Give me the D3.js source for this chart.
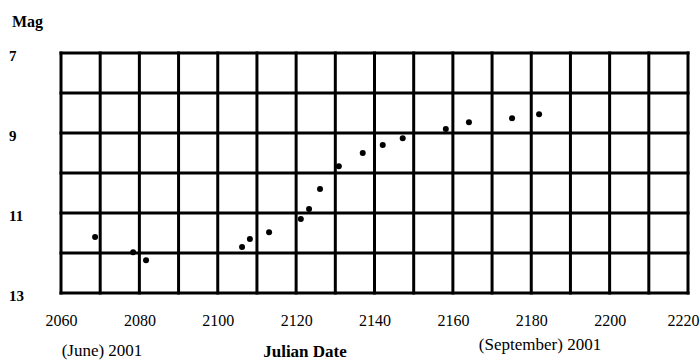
<!DOCTYPE html>
<html>
<head>
  <script src="https://d3js.org/d3.v7.min.js"></script>
  <style>
    html, body { margin: 0; background: #fff; }
    text { font-family: "Liberation Serif", serif; fill: #000; }
  </style>
</head>
<body>
<script>
  // observations: julian date (2452000 +) and visual magnitude
  var julianDays = [2068.7, 2078.4, 2081.7, 2106.2, 2108.2, 2113.1, 2121.2, 2123.3, 2126.1,
                    2130.9, 2137.0, 2142.1, 2147.2, 2158.2, 2164.1, 2175.1, 2182.0];
  var magnitudes = [11.6, 11.98, 12.18, 11.85, 11.65, 11.48, 11.15, 10.9, 10.4,
                    9.83, 9.5, 9.3, 9.13, 8.9, 8.73, 8.63, 8.53];

  var xTicks = [2060, 2080, 2100, 2120, 2140, 2160, 2180, 2200, 2220];
  var yTicks = [7, 9, 11, 13];
  var xGrid = d3.range(2060, 2221, 10);
  var yGrid = d3.range(7, 14, 1);

  var width = 700, height = 362;
  var svg = d3.select('body').append('svg')
    .attr('width', width)
    .attr('height', height);

  var x = d3.scaleLinear().domain([2060, 2220]).range([61, 688]);
  var y = d3.scaleLinear().domain([7, 13]).range([53, 293]);

  var grid = svg.append('g');
  grid.selectAll('line.v')
    .data(xGrid)
    .enter()
    .append('line')
    .attr('class', 'v')
    .attr('x1', d => x(d)).attr('x2', d => x(d))
    .attr('y1', y(7) - 1.5).attr('y2', y(13) + 1.5)
    .attr('stroke', '#000')
    .attr('stroke-width', 3);

  grid.selectAll('line.h')
    .data(yGrid)
    .enter()
    .append('line')
    .attr('class', 'h')
    .attr('x1', x(2060) - 1.5).attr('x2', x(2220) + 1.5)
    .attr('y1', d => y(d)).attr('y2', d => y(d))
    .attr('stroke', '#000')
    .attr('stroke-width', 3);

  // axes: labels only
  var xAxis = svg.append('g')
    .attr('transform', 'translate(0,' + y(13) + ')')
    .call(d3.axisBottom(x).tickValues(xTicks).tickSize(0).tickPadding(22).tickFormat(d3.format('d')));
  xAxis.select('.domain').remove();
  xAxis.selectAll('text')
    .style('font-size', '16px')
    .style('font-family', '"Liberation Serif", serif');
  // last label sits against the right edge
  xAxis.selectAll('text').filter(d => d === 2220).attr('dx', '-5');

  var yAxis = svg.append('g')
    .attr('transform', 'translate(9,3)')
    .call(d3.axisRight(y).tickValues(yTicks).tickSize(0).tickPadding(0).tickFormat(d3.format('d')));
  yAxis.select('.domain').remove();
  yAxis.selectAll('text')
    .style('font-size', '15px')
    .style('font-weight', 'bold')
    .style('font-family', '"Liberation Serif", serif');

  svg.append('text')
    .attr('x', 12).attr('y', 27)
    .style('font-size', '16px').style('font-weight', 'bold')
    .text('Mag');

  svg.append('text')
    .attr('x', 102).attr('y', 356)
    .attr('text-anchor', 'middle')
    .style('font-size', '17px')
    .text('(June) 2001');

  svg.append('text')
    .attr('x', 305).attr('y', 357)
    .attr('text-anchor', 'middle')
    .style('font-size', '17px').style('font-weight', 'bold')
    .text('Julian Date');

  svg.append('text')
    .attr('x', 540).attr('y', 350)
    .attr('text-anchor', 'middle')
    .style('font-size', '17px')
    .text('(September) 2001');

  var pts = julianDays.map((d, i) => ({ d: d, m: magnitudes[i] }));
  svg.append('g').selectAll('circle')
    .data(pts)
    .enter()
    .append('circle')
    .attr('cx', p => x(p.d))
    .attr('cy', p => y(p.m))
    .attr('r', 3)
    .attr('fill', '#000');
</script>
</body>
</html>
